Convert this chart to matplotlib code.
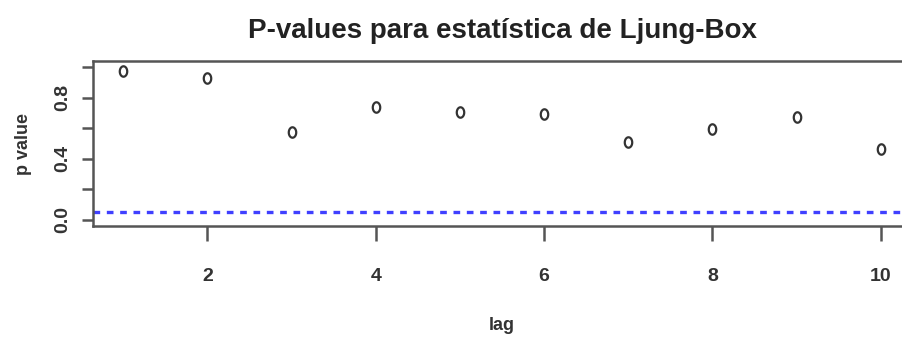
import matplotlib
matplotlib.use("Agg")
import matplotlib.pyplot as plt
from matplotlib.path import Path
from matplotlib import font_manager
import numpy as np

# Ljung-Box p-values per lag
lags = [1, 2, 3, 4, 5, 6, 7, 8, 9, 10]
p_values = [0.978, 0.932, 0.574, 0.738, 0.705, 0.692, 0.513, 0.594, 0.673, 0.463]
alpha = 0.05
x_ticks = [2, 4, 6, 8, 10]
y_ticks = [0.0, 0.2, 0.4, 0.6, 0.8, 1.0]
y_tick_labels = ["0.0", "", "0.4", "", "0.8", ""]

names = {f.name for f in font_manager.fontManager.ttflist}
narrow = "Liberation Sans Narrow" if "Liberation Sans Narrow" in names else "Liberation Sans"

W, H = 903, 353
fig = plt.figure(figsize=(W / 100, H / 100), dpi=100)
# axes box in pixels: left 93, right 911 (past the edge), top 61, bottom 226
left, right, top, bottom = 93, 911, 61.2, 226.1
ax = fig.add_axes([left / W, 1 - bottom / H, (right - left) / W, (bottom - top) / H])

# open, slightly tall ellipse marker
t = np.linspace(0, 2 * np.pi, 60)
ell = Path(np.column_stack([np.cos(t), 1.4 * np.sin(t)]), closed=True)

ax.plot(lags, p_values, linestyle="none", marker=ell, markersize=7.5,
        markerfacecolor="none", markeredgecolor="#333333", markeredgewidth=1.6)
ax.axhline(alpha, color="#4040ff", lw=2.4, dashes=(2.0, 2.0))

ax.set_xlim(0.64, 10.36)
ax.set_ylim(-0.04, 1.04)
ax.set_xticks(x_ticks)
ax.set_xticklabels([str(v) for v in x_ticks], fontfamily=narrow, fontsize=14,
                   fontweight="bold", color="#333333")
ax.set_yticks(y_ticks)
ax.set_yticklabels(y_tick_labels, rotation=90, va="center", fontfamily=narrow,
                   fontsize=14, fontweight="bold", color="#333333")

ax.tick_params(axis="x", length=11, width=1.8, color="#555555", pad=19)
ax.tick_params(axis="y", length=8, width=1.8, color="#555555", pad=8)
for s in ax.spines.values():
    s.set_color("#555555")
    s.set_linewidth(1.8)

ax.set_title("P-values para estatística de Ljung-Box", fontfamily="Liberation Sans",
             fontsize=20, fontweight="bold", color="#222222", pad=17)
ax.set_xlabel("lag", fontfamily=narrow, fontsize=13, fontweight="bold",
              color="#333333", labelpad=23)
ax.set_ylabel("p value", fontfamily=narrow, fontsize=13, fontweight="bold",
              color="#333333", labelpad=16)

fig.savefig("out.png", dpi=100)
